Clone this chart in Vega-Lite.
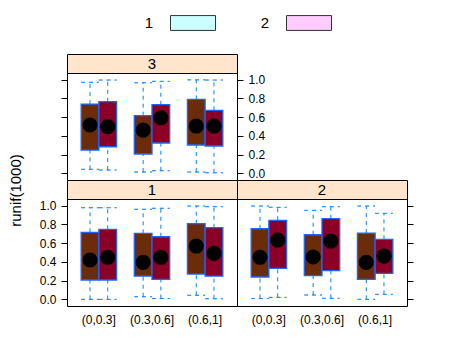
{
  "$schema": "https://vega.github.io/schema/vega-lite/v6.json",
  "padding": {"left": 8, "top": 8, "right": 5, "bottom": 5},
  "config": {
    "font": "Liberation Sans",
    "view": {"stroke": "black", "strokeWidth": 1},
    "axis": {"grid": false, "domain": false, "labelFont": "Liberation Sans", "labelFontSize": 12, "labelColor": "#000", "tickColor": "#000", "tickSize": 6, "labelPadding": 5, "titleFont": "Liberation Sans", "titleFontSize": 15, "titleFontWeight": "normal", "titleColor": "#000"}
  },
  "datasets": {
    "boxes": [
      {"panel": "3", "cat": "(0,0.3]", "grp": "1", "lo": 0.044, "q1": 0.249, "med": 0.516, "q3": 0.739, "hi": 0.971},
      {"panel": "3", "cat": "(0,0.3]", "grp": "2", "lo": 0.036, "q1": 0.284, "med": 0.498, "q3": 0.764, "hi": 0.995},
      {"panel": "3", "cat": "(0.3,0.6]", "grp": "1", "lo": 0.015, "q1": 0.207, "med": 0.462, "q3": 0.615, "hi": 0.966},
      {"panel": "3", "cat": "(0.3,0.6]", "grp": "2", "lo": 0.029, "q1": 0.324, "med": 0.593, "q3": 0.732, "hi": 0.981},
      {"panel": "3", "cat": "(0.6,1]", "grp": "1", "lo": 0.015, "q1": 0.303, "med": 0.505, "q3": 0.789, "hi": 0.997},
      {"panel": "3", "cat": "(0.6,1]", "grp": "2", "lo": 0.007, "q1": 0.292, "med": 0.505, "q3": 0.672, "hi": 0.995},
      {"panel": "1", "cat": "(0,0.3]", "grp": "1", "lo": 0.001, "q1": 0.207, "med": 0.42, "q3": 0.715, "hi": 0.977},
      {"panel": "1", "cat": "(0,0.3]", "grp": "2", "lo": 0.0, "q1": 0.207, "med": 0.449, "q3": 0.747, "hi": 0.977},
      {"panel": "1", "cat": "(0.3,0.6]", "grp": "1", "lo": 0.029, "q1": 0.249, "med": 0.395, "q3": 0.704, "hi": 0.96},
      {"panel": "1", "cat": "(0.3,0.6]", "grp": "2", "lo": 0.01, "q1": 0.214, "med": 0.449, "q3": 0.668, "hi": 0.971},
      {"panel": "1", "cat": "(0.6,1]", "grp": "1", "lo": 0.044, "q1": 0.27, "med": 0.569, "q3": 0.807, "hi": 0.995},
      {"panel": "1", "cat": "(0.6,1]", "grp": "2", "lo": 0.007, "q1": 0.249, "med": 0.491, "q3": 0.764, "hi": 0.988},
      {"panel": "2", "cat": "(0,0.3]", "grp": "1", "lo": 0.01, "q1": 0.239, "med": 0.449, "q3": 0.753, "hi": 0.995},
      {"panel": "2", "cat": "(0,0.3]", "grp": "2", "lo": 0.022, "q1": 0.331, "med": 0.633, "q3": 0.843, "hi": 0.981},
      {"panel": "2", "cat": "(0.3,0.6]", "grp": "1", "lo": 0.047, "q1": 0.253, "med": 0.452, "q3": 0.689, "hi": 0.949},
      {"panel": "2", "cat": "(0.3,0.6]", "grp": "2", "lo": 0.012, "q1": 0.306, "med": 0.622, "q3": 0.86, "hi": 0.988},
      {"panel": "2", "cat": "(0.6,1]", "grp": "1", "lo": 0.001, "q1": 0.214, "med": 0.395, "q3": 0.707, "hi": 0.995},
      {"panel": "2", "cat": "(0.6,1]", "grp": "2", "lo": 0.054, "q1": 0.278, "med": 0.462, "q3": 0.64, "hi": 0.917}
    ],
    "strips": [{"panel": "3"}, {"panel": "1"}, {"panel": "2"}],
    "key": [{"grp": "1"}, {"grp": "2"}]
  },
  "bounds": "flush",
  "spacing": 16,
  "resolve": {"scale": {"x": "independent", "y": "independent"}},
  "vconcat": [
    {
      "width": 340, "height": 30,
      "data": {"name": "key"},
      "view": {"stroke": null},
      "encoding": {"x": {"field": "grp", "type": "nominal", "scale": {"type": "point", "range": [126, 242], "padding": 0}, "axis": null}},
      "layer": [
        {"mark": {"type": "point", "shape": "M-1,-0.33L1,-0.33L1,0.33L-1,0.33Z", "size": 2025, "filled": true, "stroke": "#333333", "strokeWidth": 1, "opacity": 1},
         "encoding": {"fill": {"field": "grp", "type": "nominal", "scale": {"domain": ["1", "2"], "range": ["#CCFFFF", "#FFCCFF"]}, "legend": null}}},
        {"mark": {"type": "text", "dx": -44, "fontSize": 15, "font": "Liberation Sans", "color": "#000", "baseline": "middle"},
         "encoding": {"text": {"field": "grp"}}}
      ]
    },
    {
      "bounds": "flush",
      "spacing": 0,
      "columns": 2,
      "resolve": {"scale": {"x": "independent", "y": "independent"}},
      "concat": [
        {"width": 170, "height": 19, "data": {"name": "strips"}, "transform": [{"filter": "datum.panel == '3'"}],
         "view": {"fill": "#FFE5CC", "stroke": "black"},
         "mark": {"type": "text", "fontSize": 15, "font": "Liberation Sans", "color": "#000", "baseline": "middle"},
         "encoding": {"text": {"field": "panel"}}},
        {"width": 170, "height": 19, "data": {"name": "strips"}, "transform": [{"filter": "datum.panel == '3'"}],
         "view": {"stroke": null},
         "mark": {"type": "text", "opacity": 0},
         "encoding": {"text": {"value": ""}}},
        {
          "width": 170, "height": 107,
          "data": {"name": "boxes"},
          "transform": [{"filter": "datum.panel == '3'"}],
          "encoding": {
            "x": {"field": "cat", "type": "nominal", "scale": {"domain": ["(0,0.3]", "(0.3,0.6]", "(0.6,1]"], "paddingInner": 0, "paddingOuter": 0.1}, "axis": null},
            "xOffset": {"field": "grp", "type": "nominal", "scale": {"domain": ["1", "2"], "paddingInner": 0, "paddingOuter": 0.5}}
          },
          "layer": [
            {"mark": {"type": "rule", "color": "#0080ff", "strokeDash": [4, 4]},
             "encoding": {"y": {"field": "lo", "type": "quantitative", "scale": {"domain": [-0.07, 1.07], "nice": false, "zero": false}, "axis": {"orient": "left", "labels": false, "title": null, "values": [0, 0.2, 0.4, 0.6, 0.8, 1]}}, "y2": {"field": "q1"}}},
            {"mark": {"type": "rule", "color": "#0080ff", "strokeDash": [4, 4]},
             "encoding": {"y": {"field": "q3", "type": "quantitative", "scale": {"domain": [-0.07, 1.07], "nice": false, "zero": false}, "axis": {"orient": "right", "title": null, "format": ".1f", "values": [0, 0.2, 0.4, 0.6, 0.8, 1]}}, "y2": {"field": "hi"}}},
            {"mark": {"type": "tick", "filled": false, "thickness": 0, "size": 17.7, "color": "#0080ff", "strokeWidth": 1, "strokeDash": [4, 4], "strokeDashOffset": 0.3},
             "encoding": {"y": {"field": "lo", "type": "quantitative", "axis": null}}},
            {"mark": {"type": "tick", "filled": false, "thickness": 0, "size": 17.7, "color": "#0080ff", "strokeWidth": 1, "strokeDash": [4, 4], "strokeDashOffset": 0.3},
             "encoding": {"y": {"field": "hi", "type": "quantitative", "axis": null}}},
            {"mark": {"type": "bar", "stroke": "#1a66ff", "strokeWidth": 1.3},
             "encoding": {"y": {"field": "q1", "type": "quantitative", "axis": null}, "y2": {"field": "q3"},
                          "color": {"field": "grp", "type": "nominal", "scale": {"domain": ["1", "2"], "range": ["#6B2C0A", "#8B0026"]}, "legend": null}}},
            {"mark": {"type": "point", "filled": true, "color": "#000", "size": 230, "opacity": 1},
             "encoding": {"y": {"field": "med", "type": "quantitative", "axis": null}}}
          ],
          "resolve": {"axis": {"y": "independent"}}
        },
        {"width": 170, "height": 107, "data": {"name": "strips"}, "transform": [{"filter": "datum.panel == '3'"}],
         "view": {"stroke": null},
         "mark": {"type": "text", "opacity": 0},
         "encoding": {"text": {"value": ""}}},
        {"width": 170, "height": 19, "data": {"name": "strips"}, "transform": [{"filter": "datum.panel == '1'"}],
         "view": {"fill": "#FFE5CC", "stroke": "black"},
         "mark": {"type": "text", "fontSize": 15, "font": "Liberation Sans", "color": "#000", "baseline": "middle"},
         "encoding": {"text": {"field": "panel"}}},
        {"width": 170, "height": 19, "data": {"name": "strips"}, "transform": [{"filter": "datum.panel == '2'"}],
         "view": {"fill": "#FFE5CC", "stroke": "black"},
         "mark": {"type": "text", "fontSize": 15, "font": "Liberation Sans", "color": "#000", "baseline": "middle"},
         "encoding": {"text": {"field": "panel"}}},
        {
          "width": 170, "height": 107,
          "data": {"name": "boxes"},
          "transform": [{"filter": "datum.panel == '1'"}],
          "encoding": {
            "x": {"field": "cat", "type": "nominal", "scale": {"domain": ["(0,0.3]", "(0.3,0.6]", "(0.6,1]"], "paddingInner": 0, "paddingOuter": 0.1}, "axis": {"orient": "bottom", "title": null, "ticks": false, "tickSize": 0, "labelPadding": 8, "labelAngle": 0}},
            "xOffset": {"field": "grp", "type": "nominal", "scale": {"domain": ["1", "2"], "paddingInner": 0, "paddingOuter": 0.5}}
          },
          "layer": [
            {"mark": {"type": "rule", "color": "#0080ff", "strokeDash": [4, 4]},
             "encoding": {"y": {"field": "lo", "type": "quantitative", "scale": {"domain": [-0.07, 1.07], "nice": false, "zero": false}, "axis": {"orient": "left", "title": "runif(1000)", "titleX": -43.5, "titleY": -9, "format": ".1f", "values": [0, 0.2, 0.4, 0.6, 0.8, 1]}}, "y2": {"field": "q1"}}},
            {"mark": {"type": "rule", "color": "#0080ff", "strokeDash": [4, 4]},
             "encoding": {"y": {"field": "q3", "type": "quantitative", "axis": null}, "y2": {"field": "hi"}}},
            {"mark": {"type": "tick", "filled": false, "thickness": 0, "size": 17.7, "color": "#0080ff", "strokeWidth": 1, "strokeDash": [4, 4], "strokeDashOffset": 0.3},
             "encoding": {"y": {"field": "lo", "type": "quantitative", "axis": null}}},
            {"mark": {"type": "tick", "filled": false, "thickness": 0, "size": 17.7, "color": "#0080ff", "strokeWidth": 1, "strokeDash": [4, 4], "strokeDashOffset": 0.3},
             "encoding": {"y": {"field": "hi", "type": "quantitative", "axis": null}}},
            {"mark": {"type": "bar", "stroke": "#1a66ff", "strokeWidth": 1.3},
             "encoding": {"y": {"field": "q1", "type": "quantitative", "axis": null}, "y2": {"field": "q3"},
                          "color": {"field": "grp", "type": "nominal", "scale": {"domain": ["1", "2"], "range": ["#6B2C0A", "#8B0026"]}, "legend": null}}},
            {"mark": {"type": "point", "filled": true, "color": "#000", "size": 230, "opacity": 1},
             "encoding": {"y": {"field": "med", "type": "quantitative", "axis": null}}}
          ],
          "resolve": {"axis": {"y": "independent"}}
        },
        {
          "width": 170, "height": 107,
          "data": {"name": "boxes"},
          "transform": [{"filter": "datum.panel == '2'"}],
          "encoding": {
            "x": {"field": "cat", "type": "nominal", "scale": {"domain": ["(0,0.3]", "(0.3,0.6]", "(0.6,1]"], "paddingInner": 0, "paddingOuter": 0.1}, "axis": {"orient": "bottom", "title": null, "ticks": false, "tickSize": 0, "labelPadding": 8, "labelAngle": 0}},
            "xOffset": {"field": "grp", "type": "nominal", "scale": {"domain": ["1", "2"], "paddingInner": 0, "paddingOuter": 0.5}}
          },
          "layer": [
            {"mark": {"type": "rule", "color": "#0080ff", "strokeDash": [4, 4]},
             "encoding": {"y": {"field": "lo", "type": "quantitative", "scale": {"domain": [-0.07, 1.07], "nice": false, "zero": false}, "axis": {"orient": "right", "labels": false, "title": null, "values": [0, 0.2, 0.4, 0.6, 0.8, 1]}}, "y2": {"field": "q1"}}},
            {"mark": {"type": "rule", "color": "#0080ff", "strokeDash": [4, 4]},
             "encoding": {"y": {"field": "q3", "type": "quantitative", "axis": null}, "y2": {"field": "hi"}}},
            {"mark": {"type": "tick", "filled": false, "thickness": 0, "size": 17.7, "color": "#0080ff", "strokeWidth": 1, "strokeDash": [4, 4], "strokeDashOffset": 0.3},
             "encoding": {"y": {"field": "lo", "type": "quantitative", "axis": null}}},
            {"mark": {"type": "tick", "filled": false, "thickness": 0, "size": 17.7, "color": "#0080ff", "strokeWidth": 1, "strokeDash": [4, 4], "strokeDashOffset": 0.3},
             "encoding": {"y": {"field": "hi", "type": "quantitative", "axis": null}}},
            {"mark": {"type": "bar", "stroke": "#1a66ff", "strokeWidth": 1.3},
             "encoding": {"y": {"field": "q1", "type": "quantitative", "axis": null}, "y2": {"field": "q3"},
                          "color": {"field": "grp", "type": "nominal", "scale": {"domain": ["1", "2"], "range": ["#6B2C0A", "#8B0026"]}, "legend": null}}},
            {"mark": {"type": "point", "filled": true, "color": "#000", "size": 230, "opacity": 1},
             "encoding": {"y": {"field": "med", "type": "quantitative", "axis": null}}}
          ],
          "resolve": {"axis": {"y": "independent"}}
        }
      ]
    }
  ]
}
